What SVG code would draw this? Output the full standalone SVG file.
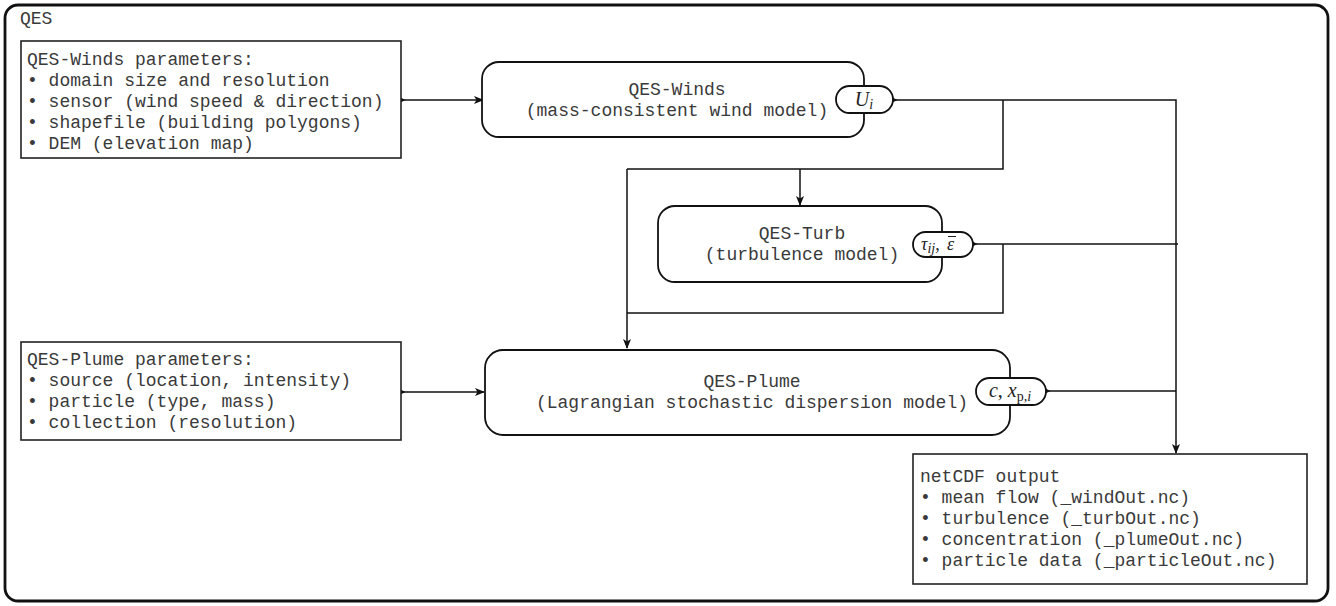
<svg xmlns="http://www.w3.org/2000/svg" width="1336" height="606" viewBox="0 0 1336 606">
<defs>
<style>
.frame{fill:#fff;stroke:#111;stroke-width:2.8}
.box{fill:#fff;stroke:#222;stroke-width:1.6}
.node{fill:#fff;stroke:#111;stroke-width:1.8}
.port{fill:#fff;stroke:#111;stroke-width:1.8}
.mono{font-family:"Liberation Mono","Courier New",monospace;font-size:18px;fill:#3a3a3a}
.c{text-anchor:middle}
.math{font-family:"Liberation Serif","Times New Roman",serif;font-style:italic;font-size:20px;fill:#222}
.mid{text-anchor:middle}
.sub{font-size:14px}
.up{font-style:normal}
.wire{fill:none;stroke:#111;stroke-width:1.5}
.arr{marker-end:url(#ah)}
.st{marker-start:url(#dot)}
</style>
<marker id="ah" viewBox="0 0 10 10" refX="9" refY="5" markerWidth="10" markerHeight="10" markerUnits="userSpaceOnUse" orient="auto">
<path d="M0,1 L10,5 L0,9 L2.5,5 Z" fill="#111"/>
</marker>
<marker id="dot" viewBox="0 0 6 6" refX="0.5" refY="3" markerWidth="6" markerHeight="6" markerUnits="userSpaceOnUse" orient="auto">
<path d="M0,0.5 L5,3 L0,5.5 Z" fill="#111"/>
</marker>
</defs>
<rect width="1336" height="606" fill="#fff"/>
<g id="qes-frame">
<rect class="frame" x="5" y="5" width="1323" height="596" rx="13"/>
<text class="mono" x="20" y="24">QES</text>
</g>

<g id="connectors">
<path class="wire st arr" d="M401,100 H483"/>
<path class="wire st arr" d="M401,392 H484"/>
<path class="wire st arr" d="M893,100 H1176 V453"/>
<path class="wire" d="M1003,100 V169 H627"/>
<path class="wire arr" d="M800,169 V205"/>
<path class="wire arr" d="M627,169 V348"/>
<path class="wire st" d="M973,244 H1178"/>
<path class="wire" d="M1003,244 V313 H627"/>
<path class="wire st" d="M1046,391 H1176"/>
</g>

<g id="winds-params">
<rect class="box" x="21" y="41" width="380" height="117"/>
<text class="mono" x="27" y="65">QES-Winds parameters:</text>
<text class="mono" x="27" y="86">• domain size and resolution</text>
<text class="mono" x="27" y="107">• sensor (wind speed &amp; direction)</text>
<text class="mono" x="27" y="128">• shapefile (building polygons)</text>
<text class="mono" x="27" y="149">• DEM (elevation map)</text>
</g>

<g id="qes-winds">
<rect class="node" x="482" y="62" width="382" height="75" rx="17"/>
<text class="mono c" x="677" y="95">QES-Winds</text>
<text class="mono c" x="677" y="116">(mass-consistent wind model)</text>
<rect class="port" x="836" y="86" width="57" height="27" rx="13.5"/>
<text class="math mid" x="864" y="106">U<tspan class="sub" dy="3">i</tspan></text>
</g>

<g id="qes-turb">
<rect class="node" x="658" y="206" width="284" height="76" rx="17"/>
<text class="mono c" x="802" y="239">QES-Turb</text>
<text class="mono c" x="802" y="260">(turbulence model)</text>
<rect class="port" x="913" y="232" width="60" height="25" rx="12.5"/>
<text class="math" x="921" y="250" style="font-size:18px">τ<tspan class="sub" dy="3">ij</tspan><tspan dy="-3" class="up">,</tspan></text>
<text class="math" x="947" y="250" style="font-size:18px">ε</text>
<line x1="948" y1="236.5" x2="956" y2="236.5" stroke="#222" stroke-width="1"/>
</g>

<g id="plume-params">
<rect class="box" x="21" y="342" width="380" height="98"/>
<text class="mono" x="27" y="365">QES-Plume parameters:</text>
<text class="mono" x="27" y="386">• source (location, intensity)</text>
<text class="mono" x="27" y="407">• particle (type, mass)</text>
<text class="mono" x="27" y="428">• collection (resolution)</text>
</g>

<g id="qes-plume">
<rect class="node" x="485" y="350" width="525" height="85" rx="18"/>
<text class="mono c" x="752" y="387">QES-Plume</text>
<text class="mono c" x="752" y="408">(Lagrangian stochastic dispersion model)</text>
<rect class="port" x="976" y="378" width="70" height="27" rx="13.5"/>
<text class="math mid" x="1010" y="397">c<tspan class="up">, </tspan>x<tspan class="sub up" dy="4">p,</tspan><tspan class="sub">i</tspan></text>
</g>

<g id="netcdf-output">
<rect class="box" x="913" y="454" width="394" height="130"/>
<text class="mono" x="920" y="482">netCDF output</text>
<text class="mono" x="920" y="503">• mean flow (_windOut.nc)</text>
<text class="mono" x="920" y="524">• turbulence (_turbOut.nc)</text>
<text class="mono" x="920" y="545">• concentration (_plumeOut.nc)</text>
<text class="mono" x="920" y="566">• particle data (_particleOut.nc)</text>
</g>
</svg>
